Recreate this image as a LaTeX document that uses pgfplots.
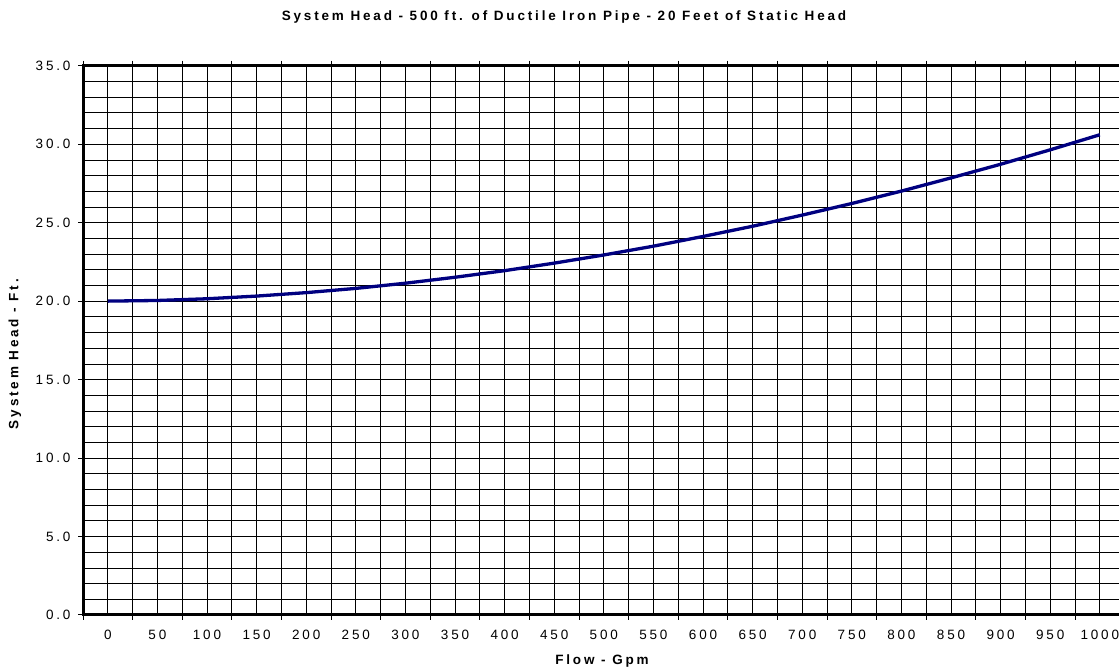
\documentclass[border=0pt]{standalone}
\usepackage{fontspec}
\setmainfont{Liberation Sans}
\newfontfamily\spaced[LetterSpace=21]{Liberation Sans}
\usepackage{pgfplots}
\pgfplotsset{compat=1.18}
\definecolor{curve}{RGB}{0,0,128}
\begin{document}
\begin{tikzpicture}[x=1pt,y=1pt]
\path[use as bounding box] (0,0) rectangle (1119,669);
\begin{axis}[
  at={(83pt,54pt)}, anchor=south west,
  scale only axis, width=1041.6pt, height=549.3pt,
  xmin=-25, xmax=1025, ymin=0, ymax=35,
  /pgf/number format/assume math mode=true,
  xtick={-25,25,...,1025}, xticklabels={},
  extra x ticks={0,50,...,1000},
  extra x tick labels={0,50,100,150,200,250,300,350,400,450,500,550,600,650,700,750,800,850,900,950,1000},
  extra x tick style={grid=major, tick style={draw=none}},
  ytick={0,5,...,35}, minor y tick num=4,
  minor y tick style={draw=none},
  yticklabel style={/pgf/number format/fixed, /pgf/number format/fixed zerofill, /pgf/number format/precision=1, xshift=-4pt},
  grid=both,
  major grid style={black, line width=0.7pt},
  minor grid style={black, line width=0.7pt},
  tick align=outside, major tick length=5pt,
  tick style={black, line width=1pt},
  axis line style={black, line width=3pt},
  ticklabel style={font=\spaced\fontsize{13.5}{15}\selectfont},
  xticklabel style={yshift=-7pt},
]
\addplot[curve, line width=3.3pt] coordinates {
(0,20.00) (50,20.04) (100,20.15) (150,20.32) (200,20.54) (250,20.81)
(300,21.14) (350,21.52) (400,21.94) (450,22.42) (500,22.94) (550,23.50)
(600,24.12) (650,24.77) (700,25.48) (750,26.22) (800,27.01) (850,27.85)
(900,28.72) (950,29.64) (1000,30.60)
};
\end{axis}
\node[font=\spaced\bfseries\fontsize{13.5}{15}\selectfont] at (564,652) {System Head - 500 ft. of Ductile Iron Pipe - 20 Feet of Static Head};
\node[font=\spaced\bfseries\fontsize{13.5}{15}\selectfont] at (602,8) {Flow - Gpm};
\node[font=\spaced\bfseries\fontsize{13.5}{15}\selectfont, rotate=90] at (15,315) {System Head - Ft.};
\end{tikzpicture}
\end{document}
